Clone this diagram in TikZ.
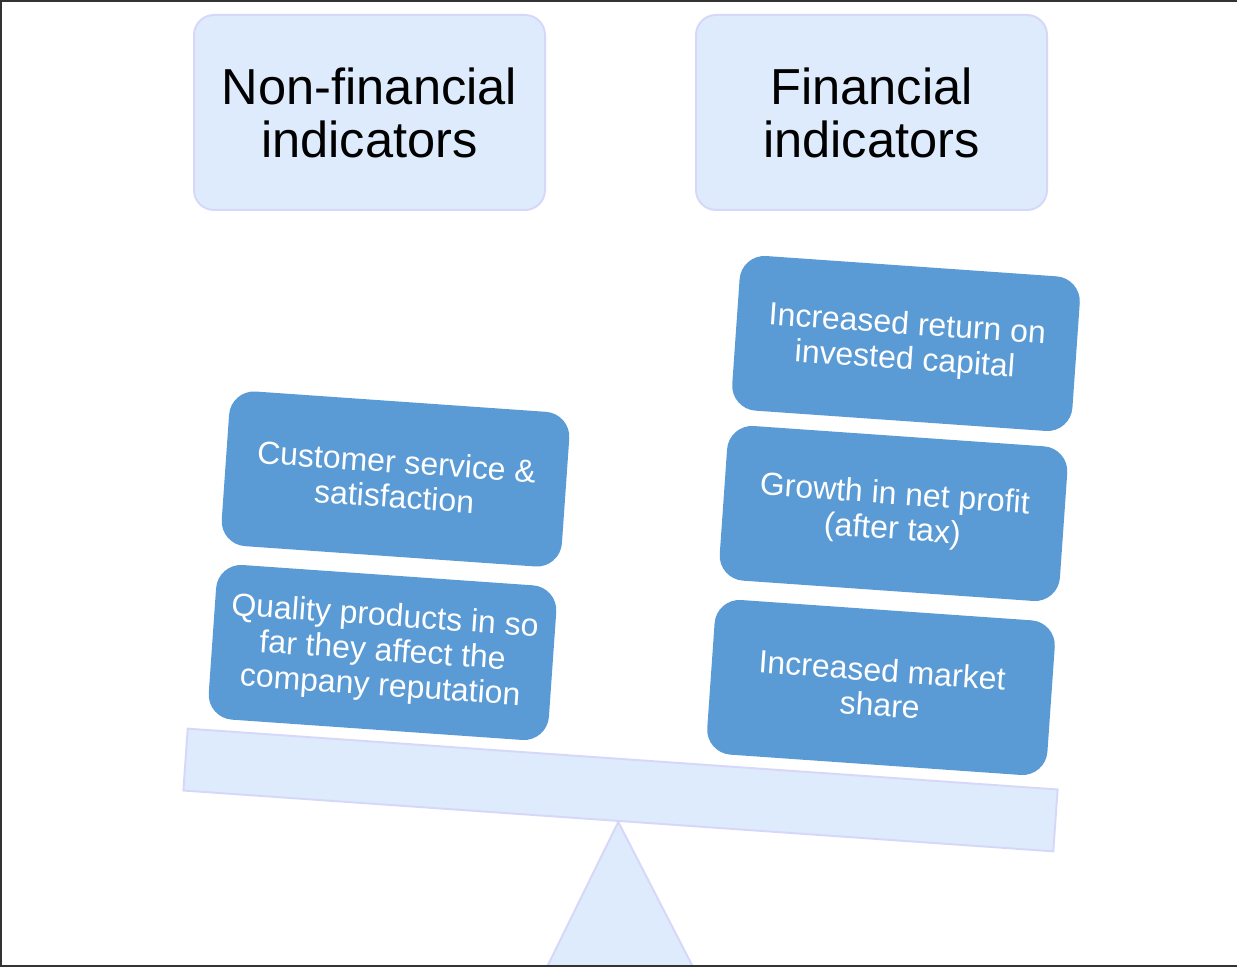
\documentclass[tikz,border=0pt]{standalone}
\usepackage{fontspec}
\setmainfont{Liberation Sans}
\definecolor{boxblue}{RGB}{91,155,213}
\definecolor{palefill}{RGB}{221,235,253}
\definecolor{paleline}{RGB}{214,216,250}

\begin{document}
\begin{tikzpicture}[x=0.5pt,y=-0.5pt,
  head/.style={draw=paleline,fill=palefill,line width=1pt,rounded corners=10pt,
    minimum width=175.5pt,minimum height=97.5pt,align=center,
    font=\fontsize{25.3}{26.5}\selectfont},
  item/.style={fill=boxblue,text=white,rounded corners=12.5pt,rotate=-4,
    minimum width=170.5pt,minimum height=77.5pt,align=center,
    font=\fontsize{16}{17.5}\selectfont},
  pale/.style={draw=paleline,fill=palefill,line width=1pt}]
\useasboundingbox (0,0) rectangle (1237,967);
\node[head] (nonfin) at (369.5,112.5) {Non-financial\\indicators};
\node[head] (fin) at (871.5,112.5) {Financial\\indicators};
\node[item] (ret) at (906,343.5) {Increased return on\\invested capital};
\node[item] (growth) at (893.5,513.5) {Growth in net profit\\(after tax)};
\node[item] (market) at (881,687.5) {Increased market\\share};
\node[item] (cust) at (395.5,479) {Customer service \&\\satisfaction};
\node[item] (qual) at (382.5,652.5) {Quality products in so\\far they affect the\\company reputation};
\node[pale,rotate=-4,minimum width=436pt,minimum height=31pt,inner sep=0pt] (beam) at (620.5,790) {};
\coordinate (footl) at (547,967);
\coordinate (footr) at (693,967);
\draw[pale] (beam.south) -- (footr) -- (footl) -- cycle;
\draw[line width=1pt,black!80] (1237,1) -- (1,1) -- (1,966) -- (1237,966);
\end{tikzpicture}
\end{document}
